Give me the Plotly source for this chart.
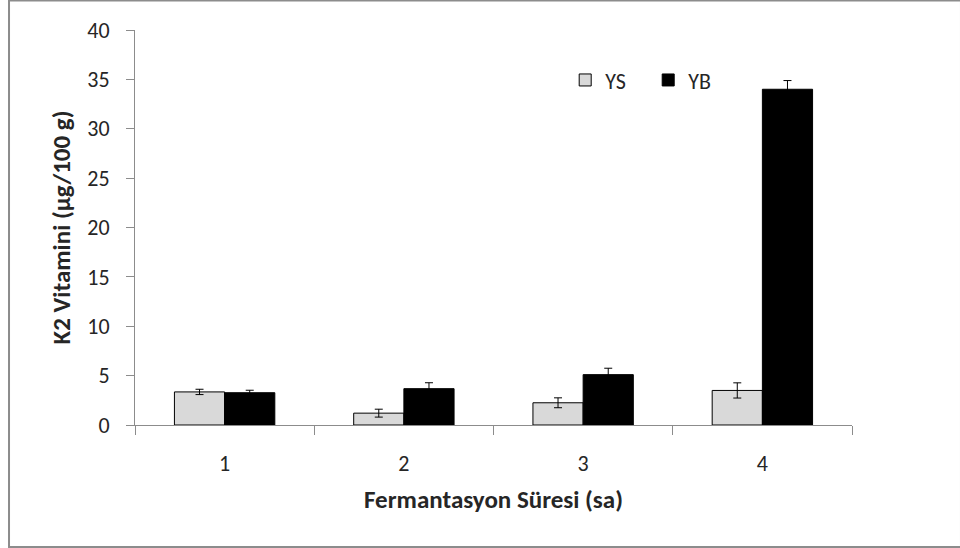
import plotly.graph_objects as go

# Fermentation time (categories) and vitamin K2 content per group
categories = ["1", "2", "3", "4"]
ys_values = [3.35, 1.2, 2.25, 3.5]
ys_errors = [0.27, 0.4, 0.5, 0.77]
yb_values = [3.27, 3.68, 5.1, 34.0]
yb_errors = [0.25, 0.6, 0.65, 0.88]
y_ticks = [0, 5, 10, 15, 20, 25, 30, 35, 40]

FONT = "Carlito, Calibri, Lato, sans-serif"
AXIS_GRAY = "#8c8c8c"
TEXT = "#262626"

fig = go.Figure()
fig.add_trace(go.Bar(
    name="YS", x=categories, y=ys_values,
    marker=dict(color="#d9d9d9", line=dict(color="#000000", width=1)),
    error_y=dict(type="data", array=ys_errors, color="#000000", thickness=1, width=4),
))
fig.add_trace(go.Bar(
    name="YB", x=categories, y=yb_values,
    marker=dict(color="#000000", line=dict(color="#000000", width=1)),
    error_y=dict(type="data", array=yb_errors, color="#000000", thickness=1, width=4),
))

# Outer chart frame
fig.add_shape(type="rect", xref="paper", yref="paper",
              x0=-0.1757, x1=1.152, y0=-0.3089, y1=1.0747,
              line=dict(color="#8c8c8c", width=2), fillcolor="rgba(0,0,0,0)",
              layer="below")

fig.update_layout(
    width=960, height=548,
    margin=dict(l=135, r=108, t=30, b=123),
    paper_bgcolor="white", plot_bgcolor="white",
    barmode="group", bargap=0.44, bargroupgap=0,
    font=dict(family=FONT, size=22, color=TEXT),
    showlegend=True,
    legend=dict(orientation="h", x=0.6, y=0.873, xanchor="left", yanchor="middle",
                font=dict(size=22, color=TEXT), bgcolor="rgba(0,0,0,0)",
                itemwidth=30, entrywidth=38, traceorder="normal"),
    xaxis=dict(
        type="category", showline=True, linecolor=AXIS_GRAY, linewidth=1,
        ticks="outside", tickson="boundaries", ticklen=9, tickcolor=AXIS_GRAY,
        showgrid=False, zeroline=False,
        tickfont=dict(size=22), ticklabelstandoff=19,
        title=dict(text="<b>Fermantasyon Süresi (sa)</b>", font=dict(size=25), standoff=14),
    ),
    yaxis=dict(
        range=[0, 40], tickvals=y_ticks, showline=True, linecolor=AXIS_GRAY, linewidth=1,
        ticks="outside", ticklen=8, tickcolor=AXIS_GRAY,
        showgrid=False, zeroline=False,
        tickfont=dict(size=22), ticklabelstandoff=12,
        title=dict(text="<b>K2 Vitamini (µg/100 g)</b>", font=dict(size=25), standoff=9),
    ),
)

fig.write_html("out.html")
